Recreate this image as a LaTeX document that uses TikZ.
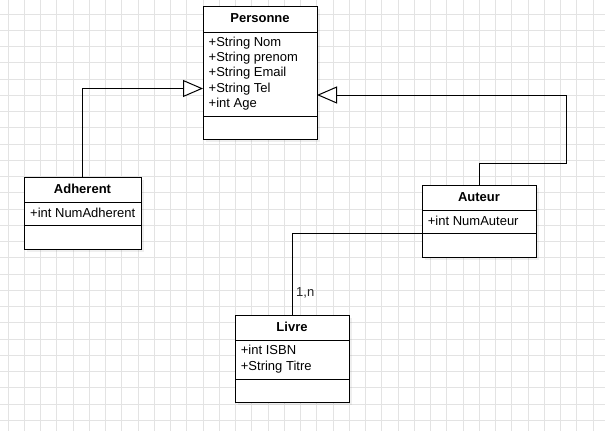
\documentclass[tikz,border=0pt]{standalone}
\usepackage{fontspec}
\setmainfont{Liberation Sans}
\usetikzlibrary{arrows.meta,shadows}
\begin{document}
\begin{tikzpicture}[x=1pt,y=-1pt,
  gridline/.style={draw=black!11, line width=0.9pt},
  cls/.style={draw=black, line width=1pt, fill=white, anchor=north west, inner sep=0pt, outer sep=0pt,
    drop shadow={opacity=0.12, shadow xshift=2.5pt, shadow yshift=-2.5pt}},
  ttl/.style={font=\fontsize{13}{15}\selectfont\bfseries, inner sep=0pt, text height=9.5pt, text depth=2.5pt},
  attr/.style={font=\fontsize{13}{15}\selectfont, anchor=west, inner sep=0pt, text height=9.5pt, text depth=2.5pt},
  sepline/.style={draw=black, line width=1pt},
  inh/.style={draw=black, line width=1pt, -{Triangle[length=20pt,width=17pt,fill=white]}},
  assoc/.style={draw=black, line width=1pt},
  mult/.style={font=\fontsize{13}{15}\selectfont, anchor=west, inner sep=0pt, text height=9.5pt, text depth=2.5pt, text=black!85}]
% background and grid
\fill[white] (0,0) rectangle (605,431);
\useasboundingbox (0,0) rectangle (605,431);
\foreach \k in {0,...,36} \draw[gridline] ({8+16.25*\k},0) -- ({8+16.25*\k},431);
\foreach \k in {0,...,25} \draw[gridline] (0,{14+16.25*\k}) -- (605,{14+16.25*\k});

% Personne
\node[cls, minimum width=114pt, minimum height=133pt] (pers) at (203,6) {};
\draw[sepline] ([yshift=-26pt]pers.north west) -- ([yshift=-26pt]pers.north east);
\draw[sepline] ([yshift=-110pt]pers.north west) -- ([yshift=-110pt]pers.north east);
\node[ttl] (perst) at ([yshift=-13pt]pers.north) {Personne};
\foreach \t [count=\i] in {+String Nom,+String prenom,+String Email,+String Tel,+int Age}
  \node[attr] (pa\i) at (208.5,{42.7+15.3*(\i-1)}) {\t};

% Adherent
\node[cls, minimum width=117pt, minimum height=72pt] (adh) at (24,177) {};
\draw[sepline] ([yshift=-25pt]adh.north west) -- ([yshift=-25pt]adh.north east);
\draw[sepline] ([yshift=-48pt]adh.north west) -- ([yshift=-48pt]adh.north east);
\node[ttl] (adht) at ([yshift=-12.5pt]adh.north) {Adherent};
\node[attr] (adha) at (30,214) {+int NumAdherent};

% Auteur
\node[cls, minimum width=114pt, minimum height=72pt] (aut) at (422,185) {};
\draw[sepline] ([yshift=-25pt]aut.north west) -- ([yshift=-25pt]aut.north east);
\draw[sepline] ([yshift=-48.5pt]aut.north west) -- ([yshift=-48.5pt]aut.north east);
\node[ttl] (autt) at ([yshift=-12.7pt]aut.north) {Auteur};
\node[attr] (auta) at (427.7,221.7) {+int NumAuteur};

% Livre
\node[cls, minimum width=114pt, minimum height=87pt] (liv) at (235,315) {};
\draw[sepline] ([yshift=-25.7pt]liv.north west) -- ([yshift=-25.7pt]liv.north east);
\draw[sepline] ([yshift=-64.3pt]liv.north west) -- ([yshift=-64.3pt]liv.north east);
\node[ttl] (livt) at ([yshift=-12.7pt]liv.north) {Livre};
\node[attr] (liva1) at (240.7,350.7) {+int ISBN};
\node[attr] (liva2) at (240.7,366.7) {+String Titre};

% connectors
\coordinate (autbend) at (566,163);
\draw[inh] (adh.north) |- ([yshift=-16pt]pers.west);
\draw[inh] (aut.north) |- (autbend) |- ([yshift=-22.5pt]pers.east);
\draw[assoc] ([yshift=-12.5pt]aut.west) -| (liv.north);
\node[mult] (m1) at ([xshift=4pt,yshift=21.7pt]liv.north) {1,n};
\end{tikzpicture}
\end{document}
